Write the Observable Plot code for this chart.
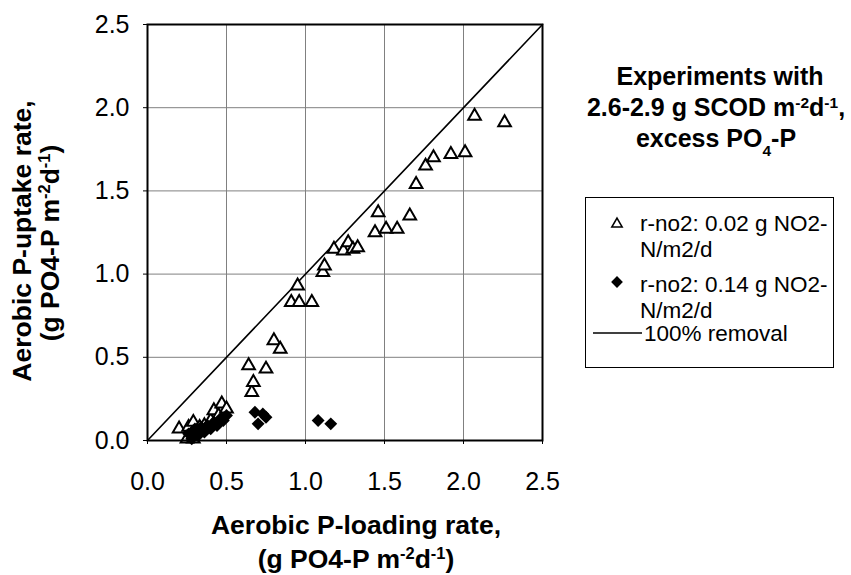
<!DOCTYPE html>
<html>
<head>
<meta charset="utf-8">
<script src="https://cdn.jsdelivr.net/npm/d3@7"></script>
<script src="https://cdn.jsdelivr.net/npm/@observablehq/plot@0.6"></script>
<style>
  html, body { margin: 0; padding: 0; background: #fff; }
  svg { font-family: "Liberation Sans", Arial, sans-serif; }
</style>
</head>
<body>
<div id="chart"></div>
<script>
// Series: r-no2 0.02 g NO2-N/m2/d (open triangles)
const triX = [0.20, 0.25, 0.26, 0.29, 0.29, 0.31, 0.33, 0.36, 0.40, 0.42, 0.45, 0.47, 0.50,
              0.64, 0.66, 0.67, 0.75, 0.80, 0.84,
              0.91, 0.95, 0.96, 1.04, 1.11, 1.12, 1.18, 1.24, 1.27, 1.30, 1.33,
              1.44, 1.46, 1.51, 1.58, 1.66, 1.70, 1.76, 1.81, 1.92, 2.01, 2.07, 2.26];
const triY = [0.07, 0.01, 0.08, 0.01, 0.11, 0.05, 0.08, 0.09, 0.12, 0.18, 0.15, 0.22, 0.19,
              0.45, 0.29, 0.35, 0.43, 0.60, 0.55,
              0.83, 0.93, 0.83, 0.83, 1.01, 1.05, 1.15, 1.14, 1.19, 1.15, 1.16,
              1.25, 1.37, 1.27, 1.27, 1.35, 1.54, 1.65, 1.70, 1.72, 1.73, 1.95, 1.91];
// Series: r-no2 0.14 g NO2-N/m2/d (filled diamonds)
const diaX = [0.26, 0.28, 0.30, 0.32, 0.34, 0.36, 0.38, 0.40, 0.42, 0.44, 0.46, 0.48, 0.50,
              0.68, 0.73, 0.70, 0.75, 1.08, 1.16];
const diaY = [0.04, 0.01, 0.07, 0.03, 0.08, 0.05, 0.09, 0.07, 0.11, 0.09, 0.13, 0.12, 0.15,
              0.17, 0.16, 0.10, 0.14, 0.12, 0.10];
// 100% removal line
const lineX = [0, 2.5];
const lineY = [0, 2.5];
const xTicks = [0, 0.5, 1.0, 1.5, 2.0, 2.5];
const yTicks = [0, 0.5, 1.0, 1.5, 2.0, 2.5];

const legendLabels = [["r-no2: 0.02 g NO2-", "N/m2/d"], ["r-no2: 0.14 g NO2-", "N/m2/d"], ["100% removal"]];

const tri = triX.map((x, i) => ({x, y: triY[i]}));
const dia = diaX.map((x, i) => ({x, y: diaY[i]}));
const diag = lineX.map((x, i) => ({x, y: lineY[i]}));

const TRI_R = 4.7, DIA_R = 5.8;

const svg = Plot.plot({
  width: 851,
  height: 575,
  marginLeft: 147,
  marginRight: 309,
  marginTop: 24,
  marginBottom: 135,
  style: {fontFamily: "Liberation Sans, Arial, sans-serif", background: "#fff"},
  x: {domain: [0, 2.5]},
  y: {domain: [0, 2.5]},
  marks: [
    Plot.gridX(xTicks, {stroke: "#808080", strokeOpacity: 1, strokeWidth: 1}),
    Plot.gridY(yTicks, {stroke: "#808080", strokeOpacity: 1, strokeWidth: 1}),
    Plot.axisX({ticks: xTicks, tickSize: 4, tickPadding: 28, tickFormat: d3.format(".1f"), fontSize: 25, label: null, stroke: "#000"}),
    Plot.axisY({ticks: yTicks, tickSize: 4, tickPadding: 14, tickFormat: d3.format(".1f"), fontSize: 25, label: null, stroke: "#000"}),
    Plot.line(diag, {x: "x", y: "y", stroke: "#000", strokeWidth: 1.6}),
    Plot.dot(tri, {x: "x", y: "y", symbol: "triangle", r: TRI_R, stroke: "#000", fill: "#fff", strokeWidth: 2}),
    Plot.dot(dia, {x: "x", y: "y", symbol: "diamond2", r: DIA_R, fill: "#000", stroke: "none"}),
    Plot.frame({stroke: "#000", strokeWidth: 2})
  ]
});

const s = d3.select(svg);
const font = "Liberation Sans, Arial, sans-serif";

function supText(g, parts) {
  parts.forEach(p => {
    const t = g.append("tspan").text(p.t);
    if (p.sup) t.attr("baseline-shift", "super").attr("font-size", "62%");
    if (p.sub) t.attr("baseline-shift", "sub").attr("font-size", "62%");
  });
}

// X axis title
const xt = s.append("g").attr("font-family", font).attr("font-weight", "bold").attr("font-size", 26.5).attr("text-anchor", "middle").attr("fill", "#000");
xt.append("text").attr("x", 356).attr("y", 534).text("Aerobic P-loading rate,");
supText(xt.append("text").attr("x", 356).attr("y", 568), [{t: "(g PO4-P m"}, {t: "-2", sup: true}, {t: "d"}, {t: "-1", sup: true}, {t: ")"}]);

// Y axis title
const yt = s.append("g").attr("font-family", font).attr("font-weight", "bold").attr("font-size", 26.5).attr("text-anchor", "middle").attr("fill", "#000");
yt.append("text").attr("transform", "translate(31,241) rotate(-90)").text("Aerobic P-uptake rate,");
supText(yt.append("text").attr("transform", "translate(59,243) rotate(-90)"), [{t: "(g PO4-P m"}, {t: "-2", sup: true}, {t: "d"}, {t: "-1", sup: true}, {t: ")"}]);

// Right title
const rt = s.append("g").attr("font-family", font).attr("font-weight", "bold").attr("font-size", 25).attr("text-anchor", "middle").attr("fill", "#000");
rt.append("text").attr("x", 720).attr("y", 85).text("Experiments with");
supText(rt.append("text").attr("x", 716).attr("y", 116), [{t: "2.6-2.9 g SCOD m"}, {t: "-2", sup: true}, {t: "d"}, {t: "-1", sup: true}, {t: ","}]);
supText(rt.append("text").attr("x", 716).attr("y", 147), [{t: "excess PO"}, {t: "4", sub: true}, {t: "-P"}]);

// Legend
const lg = s.append("g").attr("font-family", font).attr("font-size", 22.5).attr("text-anchor", "start").attr("fill", "#000");
lg.append("rect").attr("x", 585.5).attr("y", 197.5).attr("width", 248).attr("height", 170).attr("fill", "#fff").attr("stroke", "#000").attr("stroke-width", 1);
lg.append("path").attr("d", d3.symbol(d3.symbolTriangle, Math.PI * 3.8 * 3.8)()).attr("transform", "translate(617,224)").attr("fill", "#fff").attr("stroke", "#000").attr("stroke-width", 1.6);
lg.append("text").attr("x", 640).attr("y", 231).text(legendLabels[0][0]);
lg.append("text").attr("x", 640).attr("y", 257).text(legendLabels[0][1]);
lg.append("path").attr("d", d3.symbol(d3.symbolDiamond2, Math.PI * 5.3 * 5.3)()).attr("transform", "translate(617,282)").attr("fill", "#000");
lg.append("text").attr("x", 640).attr("y", 292).text(legendLabels[1][0]);
lg.append("text").attr("x", 640).attr("y", 318).text(legendLabels[1][1]);
lg.append("line").attr("x1", 593).attr("x2", 642).attr("y1", 333).attr("y2", 333).attr("stroke", "#000").attr("stroke-width", 1.6);
lg.append("text").attr("x", 644).attr("y", 341).text(legendLabels[2][0]);

document.getElementById("chart").appendChild(svg);
</script>
</body>
</html>
